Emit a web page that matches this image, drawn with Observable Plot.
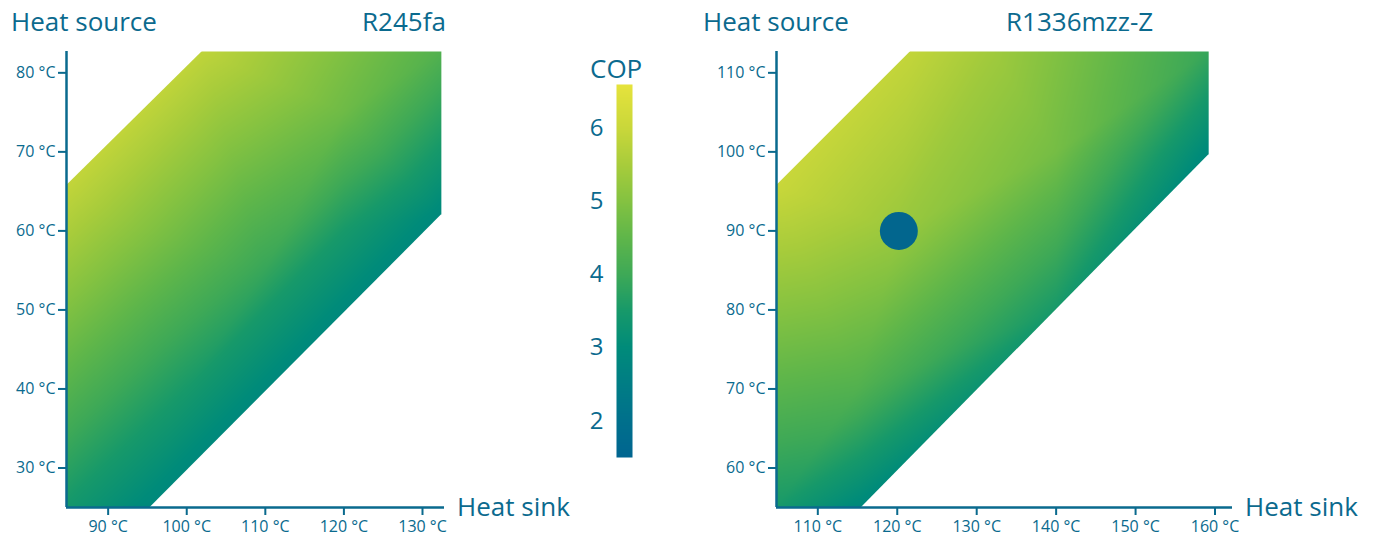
<!DOCTYPE html>
<html><head><meta charset="utf-8">
<script src="https://cdn.jsdelivr.net/npm/d3@7"></script>
<script src="https://cdn.jsdelivr.net/npm/@observablehq/plot@0.6"></script>
<style>
body{margin:0;background:#fff;font-family:"Open Sans",sans-serif;}
#wrap{position:relative;width:1380px;height:539px;overflow:hidden;background:#fff;}
.lbl{position:absolute;font-size:26px;line-height:26px;color:#0b6a8e;white-space:nowrap;}
.abs{position:absolute;top:0;}
</style></head><body><div id="wrap"></div>
<script>
// ---- colour legend (COP) ----
const copStops   = [1.5, 2, 2.5, 3, 3.5, 4, 4.5, 5, 5.5, 6, 6.6];
const copColors  = ["#006590", "#00708c", "#007d85", "#008b7a", "#17996a", "#3ea957", "#5fb64a", "#84c241", "#a8cc3b", "#c9d73a", "#e6e33c"];
const legendTicks = [2, 3, 4, 5, 6];

// ---- R245fa ----
const r245faEnvSink   = [84.7, 102.0, 132.4, 132.4, 95.35, 84.7];
const r245faEnvSource = [65.7, 82.7, 82.7, 62.0, 25.0, 25.0];
const r245faSampleSink   = [84.7, 102.0, 132.4, 132.4, 95.35, 84.7, 95, 110, 120, 100, 120];
const r245faSampleSource = [65.7, 82.7, 82.7, 62.0, 25.0, 25.0, 60, 55, 75, 40, 60];
const r245faSampleCop    = [5.9, 5.85, 4.3, 2.9, 2.9, 3.45, 5.0, 3.9, 4.7, 3.5, 3.5];
const r245faSinkTicks   = [90, 100, 110, 120, 130];
const r245faSourceTicks = [30, 40, 50, 60, 70, 80];
const r245faSinkDomain   = [84.7, 132.8];
const r245faSourceDomain = [25, 82.7];

// ---- R1336mzz-Z ----
const r1336EnvSink   = [104.8, 121.7, 159.2, 159.2, 115.5, 104.8];
const r1336EnvSource = [95.7, 112.7, 112.7, 99.6, 55.0, 55.0];
const r1336SampleSink   = [104.8, 121.7, 159.2, 159.2, 115.5, 104.8, 120.2, 140, 140, 115, 132];
const r1336SampleSource = [95.7, 112.7, 112.7, 99.6, 55.0, 55.0, 90, 100, 80, 70, 112.7];
const r1336SampleCop    = [6.0, 5.9, 3.9, 2.9, 2.9, 3.5, 5.3, 4.8, 3.5, 4.3, 5.4];
const r1336SinkTicks   = [110, 120, 130, 140, 150, 160];
const r1336SourceTicks = [60, 70, 80, 90, 100, 110];
const r1336SinkDomain   = [104.8, 162.2];
const r1336SourceDomain = [55, 112.7];
const r1336PointSink = [120.2];
const r1336PointSource = [90];

const ink = "#0a6a8e";
const colorOpts = {type: "linear", domain: copStops, range: copColors, interpolate: "rgb"};
const wrap = document.getElementById("wrap");

function panel({envSink, envSource, sSink, sSource, sCop, xTicks, yTicks, xDomain, yDomain, left, width, marginLeft, marginRight, points}) {
  const samples = sSink.map((d, i) => ({sink: d, source: sSource[i], cop: sCop[i]}));
  const env = envSink.map((d, i) => ({x: d, y: envSource[i]}));
  const [xmin, xmax] = xDomain, [ymin, ymax] = yDomain;
  const upperMask = [{x: env[0].x, y1: env[0].y, y2: ymax}, {x: env[1].x, y1: env[1].y, y2: ymax}];
  const lowerMask = [{x: env[4].x, y1: ymin, y2: env[4].y}, {x: env[3].x, y1: ymin, y2: env[3].y}, {x: xmax, y1: ymin, y2: env[3].y}];
  const marks = [
    Plot.raster(samples, {x: "sink", y: "source", fill: "cop", interpolate: "barycentric",
      x1: xmin, x2: env[2].x, y1: ymin, y2: ymax}),
    Plot.areaY(upperMask, {x: "x", y1: "y1", y2: "y2", fill: "white"}),
    Plot.areaY(lowerMask, {x: "x", y1: "y1", y2: "y2", fill: "white"}),
  ];
  if (points) marks.push(Plot.dot(points, {x: "sink", y: "source", r: 19, fill: "#02668e"}));
  marks.push(
    Plot.axisY(yTicks, {tickFormat: d => `${d} °C`, tickSize: 8, tickPadding: 3, fontSize: 16, strokeWidth: 2, label: null}),
    Plot.axisX(xTicks, {tickFormat: d => `${d} °C`, tickSize: 8, tickPadding: 5, fontSize: 16, strokeWidth: 2, label: null}),
    Plot.ruleX([xmin], {y1: ymin, y2: ymax, strokeWidth: 2.5}),
    Plot.ruleY([ymin], {x1: xmin, x2: xmax, strokeWidth: 2.5})
  );
  const p = Plot.plot({
    width, height: 539, marginLeft, marginRight, marginTop: 51, marginBottom: 32,
    x: {domain: xDomain, axis: null}, y: {domain: yDomain, axis: null},
    color: colorOpts,
    style: {fontFamily: "Open Sans", color: ink, background: "transparent", overflow: "visible"},
    marks
  });
  p.classList.add("abs");
  p.style.left = left + "px";
  wrap.appendChild(p);
}

panel({envSink: r245faEnvSink, envSource: r245faEnvSource, sSink: r245faSampleSink, sSource: r245faSampleSource, sCop: r245faSampleCop,
  xTicks: r245faSinkTicks, yTicks: r245faSourceTicks, xDomain: r245faSinkDomain, yDomain: r245faSourceDomain,
  left: 0, width: 460, marginLeft: 66, marginRight: 16});

panel({envSink: r1336EnvSink, envSource: r1336EnvSource, sSink: r1336SampleSink, sSource: r1336SampleSource, sCop: r1336SampleCop,
  xTicks: r1336SinkTicks, yTicks: r1336SourceTicks, xDomain: r1336SinkDomain, yDomain: r1336SourceDomain,
  left: 700, width: 560, marginLeft: 76, marginRight: 28,
  points: r1336PointSink.map((d, i) => ({sink: d, source: r1336PointSource[i]}))});

// legend
const leg = Plot.plot({
  width: 100, height: 539, marginLeft: 56, marginRight: 28, marginTop: 84, marginBottom: 82,
  x: {domain: [0, 1], axis: null}, y: {domain: [copStops[0], copStops[copStops.length - 1]], axis: null},
  color: colorOpts,
  style: {fontFamily: "Open Sans", color: ink, background: "transparent", overflow: "visible"},
  marks: [
    Plot.raster({fill: (x, y) => y, x1: 0, x2: 1, y1: copStops[0], y2: copStops[copStops.length - 1]}),
    Plot.axisY(legendTicks, {tickFormat: d => String(d), tickSize: 0, tickPadding: 13, fontSize: 24, label: null})
  ]
});
leg.classList.add("abs");
leg.style.left = "560px";
wrap.appendChild(leg);

function label(text, x, top) {
  const d = document.createElement("div");
  d.className = "lbl"; d.textContent = text;
  d.style.left = x + "px"; d.style.top = top + "px";
  wrap.appendChild(d);
}
label("Heat source", 11, 8);
label("R245fa", 362, 8);
label("Heat sink", 457, 493);
label("COP", 590, 55);
label("Heat source", 703, 8);
label("R1336mzz-Z", 1006, 8);
label("Heat sink", 1245, 493);
</script></body></html>
